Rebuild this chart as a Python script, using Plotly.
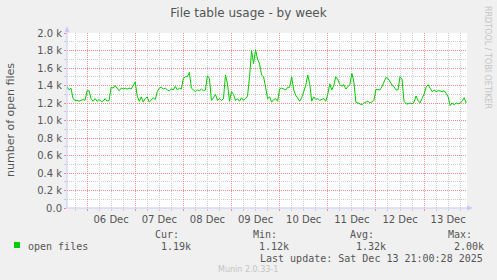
import datetime as dt
import plotly.graph_objects as go

# ---- data -------------------------------------------------------------
start_time = dt.datetime(2025, 12, 5, 14, 0)
step_hours = 1
open_files = [
    1390, 1350, 1370, 1250, 1230, 1230, 1220, 1230, 1240, 1230,
    1340, 1340, 1250, 1220, 1250, 1220, 1240, 1220, 1220, 1250,
    1220, 1230, 1380, 1370, 1400, 1370, 1340, 1370, 1360, 1370,
    1360, 1370, 1360, 1400, 1440, 1280, 1220, 1270, 1210, 1250,
    1270, 1210, 1240, 1260, 1240, 1330, 1370, 1380, 1360, 1370,
    1350, 1340, 1360, 1350, 1390, 1350, 1370, 1360, 1480, 1500,
    1500, 1550, 1370, 1350, 1330, 1350, 1340, 1360, 1340, 1350,
    1510, 1480, 1230, 1260, 1300, 1230, 1250, 1230, 1250, 1520,
    1420, 1220, 1330, 1300, 1230, 1250, 1220, 1260, 1230, 1250,
    1280, 1500, 1800, 1650, 1810, 1700, 1650, 1520, 1500, 1380,
    1250, 1270, 1210, 1240, 1250, 1220, 1360, 1370, 1360, 1350,
    1380, 1380, 1500, 1350, 1290, 1250, 1220, 1260, 1320, 1400,
    1520, 1420, 1220, 1270, 1240, 1250, 1230, 1240, 1250, 1220,
    1300, 1420, 1350, 1400, 1500, 1470, 1410, 1390, 1410, 1360,
    1380, 1410, 1540, 1440, 1210, 1200, 1190, 1180, 1200, 1210,
    1220, 1200, 1220, 1230, 1356, 1349, 1349, 1387, 1433, 1490,
    1482, 1444, 1406, 1387, 1349, 1349, 1501, 1471, 1220, 1190,
    1190, 1200, 1190, 1210, 1280, 1230, 1200, 1250, 1300, 1380,
    1410, 1370, 1330, 1350, 1330, 1340, 1340, 1330, 1340, 1310,
    1270, 1170, 1200, 1180, 1200, 1190, 1200, 1220, 1260, 1200,
]
times = [start_time + dt.timedelta(hours=step_hours * i) for i in range(len(open_files))]
range_end = start_time + dt.timedelta(hours=199.4)

y_tick_vals = [0, 200, 400, 600, 800, 1000, 1200, 1400, 1600, 1800, 2000]
y_tick_text = ["0.0", "0.2 k", "0.4 k", "0.6 k", "0.8 k", "1.0 k",
               "1.2 k", "1.4 k", "1.6 k", "1.8 k", "2.0 k"]

title_text = "File table usage - by week"
y_title = "number of open files"
series_name = "open files"
stat_labels = ["Cur:", "Min:", "Avg:", "Max:"]
stat_values = ["1.19k", "1.12k", "1.32k", "2.00k"]
last_update = "Last update: Sat Dec 13 21:00:28 2025"
version_text = "Munin 2.0.33-1"
side_text = "RRDTOOL / TOBI OETIKER"

# ---- layout constants (pixels) ---------------------------------------
W, H = 497, 280
L, R, T, B = 67, 30, 33, 72
PW, PH = W - L - R, H - T - B

def px(x):
    return (x - L) / PW

def py(y):
    return (H - B - y) / PH

TEXT = "#555555"
MONO = "DejaVu Sans Mono"
SANS = "DejaVu Sans"
AXIS = "#c8c8ff"
MAJOR = "rgba(240,120,120,0.8)"
MINOR = "#cccccc"

fig = go.Figure()
fig.add_trace(go.Scatter(x=times, y=open_files, mode="lines",
                         line=dict(color="#00cc00", width=1),
                         showlegend=False, hoverinfo="skip"))

fig.update_layout(
    width=W, height=H,
    margin=dict(l=L, r=R, t=T, b=B),
    paper_bgcolor="#f0f0f0", plot_bgcolor="#ffffff",
    font=dict(family=SANS, size=10, color=TEXT),
    showlegend=False,
    title=dict(text=title_text, x=0.5, xref="container", xanchor="center",
               y=1 - 13 / H, yref="container", yanchor="middle",
               font=dict(family=SANS, size=12, color=TEXT)),
)

fig.update_xaxes(
    type="date", range=[start_time, range_end],
    tick0="2025-12-06", dtick=86400000, tickformat="%d %b",
    ticklabelmode="period",
    showgrid=True, gridcolor=MAJOR, griddash="1px,1px", gridwidth=1,
    ticks="outside", ticklen=2, tickcolor=MAJOR,
    minor=dict(dtick=6 * 3600000, showgrid=True, gridcolor=MINOR,
               griddash="1px,1px", ticks="outside", ticklen=2, tickcolor=MINOR),
    showline=False, zeroline=False, fixedrange=True,
    tickfont=dict(family=SANS, size=10, color=TEXT),
)
fig.update_yaxes(
    range=[0, 2000], tickvals=y_tick_vals, ticktext=y_tick_text,
    showgrid=True, gridcolor=MAJOR, griddash="1px,1px", gridwidth=1,
    ticks="outside", ticklen=2, tickcolor=MAJOR,
    minor=dict(dtick=100, showgrid=True, gridcolor=MINOR,
               griddash="1px,1px", ticks="outside", ticklen=2, tickcolor=MINOR),
    showline=False, zeroline=False, fixedrange=True,
    tickfont=dict(family=SANS, size=10, color=TEXT),
)

# axis lines with arrows
shapes = [
    dict(type="line", xref="paper", yref="paper", x0=0, x1=px(468), y0=0, y1=0,
         line=dict(color=AXIS, width=1)),
    dict(type="path", xref="paper", yref="paper",
         path=f"M {px(467)} {py(205.5)} L {px(473)} {py(208)} L {px(467)} {py(210.5)} Z",
         fillcolor=AXIS, line=dict(width=0)),
    dict(type="line", xref="paper", yref="paper", x0=0, x1=0, y0=0, y1=py(31),
         line=dict(color=AXIS, width=1)),
    dict(type="path", xref="paper", yref="paper",
         path=f"M {px(64.5)} {py(32)} L {px(67)} {py(26)} L {px(69.5)} {py(32)} Z",
         fillcolor=AXIS, line=dict(width=0)),
    # legend swatch
    dict(type="rect", xref="paper", yref="paper",
         x0=px(14), x1=px(20), y0=py(248), y1=py(242),
         fillcolor="#00cc00", line=dict(width=0)),
]
fig.update_layout(shapes=shapes)

ann = []
def add_text(text, x, y, size=10, family=MONO, color=TEXT, xanchor="left",
             angle=0):
    ann.append(dict(text=text, x=px(x), y=py(y), xref="paper", yref="paper",
                    xanchor=xanchor, yanchor="middle", showarrow=False,
                    align=xanchor if xanchor != "center" else "center",
                    textangle=angle, borderpad=0,
                    font=dict(family=family, size=size, color=color)))

add_text(y_title, 10, 120, size=11, family=SANS, xanchor="center", angle=-90)
add_text(side_text, 488, 57, size=8, family=SANS, color="#c4c4c4",
         xanchor="center", angle=90)
add_text(series_name, 27, 246)
stat_label_x = [154, 252, 349, 447]
stat_value_x = [160, 258, 355, 453]
for lab, val, lx, vx in zip(stat_labels, stat_values, stat_label_x, stat_value_x):
    add_text(lab, lx, 234)
    add_text(val, vx, 246)
add_text(last_update, 484, 258, xanchor="right")
add_text(version_text, 248, 269, size=8, family=SANS, color="#c4c4c4",
         xanchor="center")
fig.update_layout(annotations=ann)

fig.write_html("out.html", config={"displayModeBar": False})
